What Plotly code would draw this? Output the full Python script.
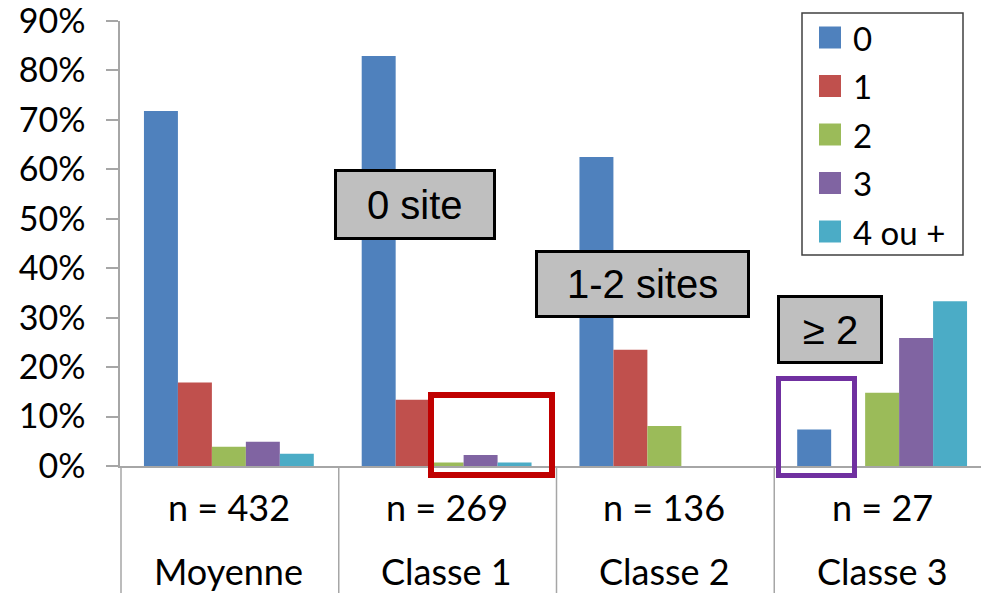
import plotly.graph_objects as go

# Data: share of households by number of sites, per class
categories = ["Moyenne", "Classe 1", "Classe 2", "Classe 3"]
counts = ["n = 432", "n = 269", "n = 136", "n = 27"]
series_names = ["0", "1", "2", "3", "4 ou +"]
series_colors = ["#4f81bd", "#c0504d", "#9bbb59", "#8064a2", "#4bacc6"]
values_0 = [71.8, 82.9, 62.5, 7.4]
values_1 = [16.9, 13.4, 23.5, 0.0]
values_2 = [3.9, 0.7, 8.1, 14.8]
values_3 = [4.9, 2.2, 0.0, 25.9]
values_4 = [2.5, 0.7, 0.0, 33.3]
y_ticks = [0, 10, 20, 30, 40, 50, 60, 70, 80, 90]
y_tick_labels = [f"{v}%" for v in y_ticks]

series_values = [values_0, values_1, values_2, values_3, values_4]

W, H = 981, 593
L, T, B = 120, 21, 127
PW, PH = W - L, H - T - B
GROUP = 217.75  # pixel width of one category group

def px(x):
    return (x - L) / PW

def py(y):
    return (H - B - y) / PH

fig = go.Figure()
xpos = list(range(len(categories)))
for name, color, vals in zip(series_names, series_colors, series_values):
    fig.add_trace(go.Bar(x=xpos, y=vals, name=name, marker_color=color,
                         marker_line_width=0, showlegend=False))

AX = "#a6a6a6"
fig.update_layout(
    width=W, height=H,
    margin=dict(l=L, r=0, t=T, b=B, pad=0),
    plot_bgcolor="white", paper_bgcolor="white",
    barmode="group", bargap=0.22, bargroupgap=0,
    font=dict(family="Lato", color="black"),
    xaxis=dict(range=[-0.5, -0.5 + PW / GROUP], showticklabels=False,
               showline=True, linecolor=AX, linewidth=1.5, ticks="",
               showgrid=False, zeroline=False),
    yaxis=dict(range=[0, 90.001], tickmode="array", tickvals=y_ticks,
               ticktext=y_tick_labels, ticklabeloverflow="allow",
               showline=True, linecolor=AX, linewidth=1.5,
               ticks="outside", ticklen=12, tickcolor=AX, tickwidth=1.5,
               ticklabelstandoff=14,
               tickfont=dict(family="Lato", size=34, color="black"),
               showgrid=False, zeroline=False),
)

shapes = []
annotations = []

# Category separators and two-line category labels under the axis
for i in range(len(categories) + 1):
    xs = L + 1 + i * GROUP
    shapes.append(dict(type="line", xref="paper", yref="paper",
                       x0=px(xs), x1=px(xs), y0=0, y1=py(H),
                       line=dict(color=AX, width=1.5)))
for i, (cat, n) in enumerate(zip(categories, counts)):
    annotations.append(dict(x=i, y=py(507), xref="x", yref="paper", text=n,
                            showarrow=False, font=dict(size=36, family="Lato"),
                            xanchor="center", yanchor="middle"))
    annotations.append(dict(x=i, y=py(571), xref="x", yref="paper", text=cat,
                            showarrow=False, font=dict(size=36, family="Lato"),
                            xanchor="center", yanchor="middle"))

# Grey callout boxes
callouts = [("0 site", 334, 496, 169, 240),
            ("1-2 sites", 535, 750, 250, 318),
            ("≥ 2", 777, 883, 295, 364)]
for text, x0, x1, y0, y1 in callouts:
    shapes.append(dict(type="rect", xref="paper", yref="paper",
                       x0=px(x0 + 1.5), x1=px(x1 - 1.5), y0=py(y0 + 1.5), y1=py(y1 - 1.5),
                       fillcolor="#bfbfbf", line=dict(color="black", width=3)))
    annotations.append(dict(x=px((x0 + x1) / 2), y=py((y0 + y1) / 2),
                            xref="paper", yref="paper", text=text, showarrow=False,
                            font=dict(family="Liberation Sans", size=40, color="black"),
                            xanchor="center", yanchor="middle"))

# Highlight frames
shapes.append(dict(type="rect", xref="paper", yref="paper",
                   x0=px(431), x1=px(552), y0=py(395), y1=py(475),
                   line=dict(color="#c00000", width=6)))
shapes.append(dict(type="rect", xref="paper", yref="paper",
                   x0=px(778.5), x1=px(854.5), y0=py(378.5), y1=py(475.5),
                   line=dict(color="#7030a0", width=5)))

# Legend box
shapes.append(dict(type="rect", xref="paper", yref="paper",
                   x0=px(802), x1=px(963), y0=py(13), y1=py(255),
                   fillcolor="white", line=dict(color="#404040", width=1.5)))
for k, (name, color) in enumerate(zip(series_names, series_colors)):
    cy = 37.5 + k * 48.5
    shapes.append(dict(type="rect", xref="paper", yref="paper",
                       x0=px(819), x1=px(841), y0=py(cy - 11), y1=py(cy + 11),
                       fillcolor=color, line=dict(width=0)))
    annotations.append(dict(x=px(851), y=py(cy), xref="paper", yref="paper",
                            text=name, showarrow=False,
                            font=dict(family="Lato", size=33, color="black"),
                            xanchor="left", yanchor="middle"))

fig.update_layout(shapes=shapes, annotations=annotations)
fig.write_html("out.html")
